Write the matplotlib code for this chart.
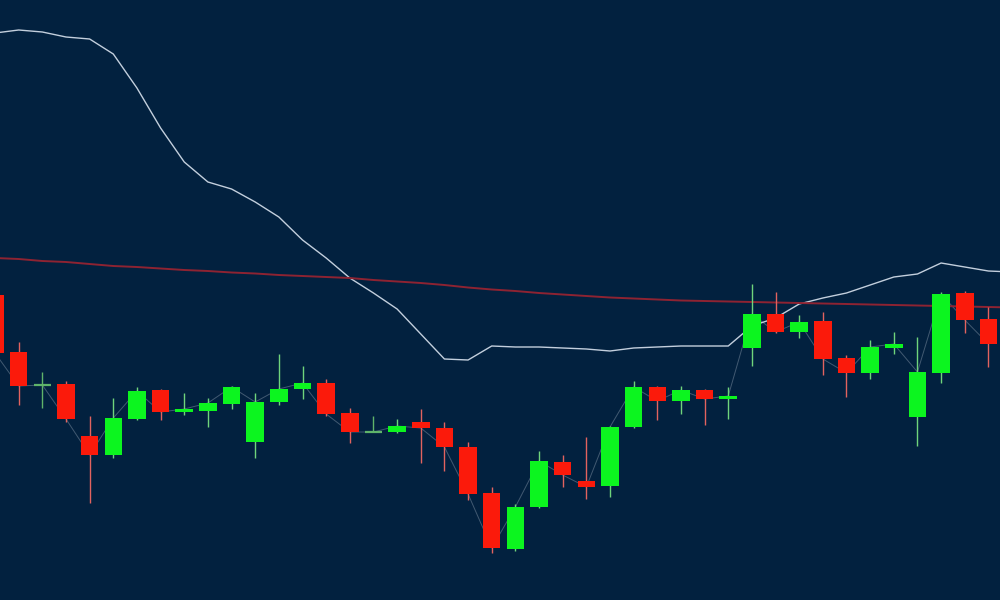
import numpy as np
import matplotlib
matplotlib.use('Agg')
import matplotlib.pyplot as plt

# candle data (arbitrary price units, higher = up)
opens = [305, 248, 215, 216, 164, 145, 181, 210, 188, 189, 196, 158, 198, 211, 217,
         187, 168, 168, 178, 172, 153, 107, 51, 93, 138, 119, 114, 173, 213, 199,
         210, 201, 252, 286, 268, 279, 242, 227, 252, 183, 227, 307, 281]
highs = [308, 258, 228, 219, 184, 202, 213, 211, 207, 202, 214, 207, 246, 234, 221,
         192, 184, 181, 191, 178, 158, 113, 96, 149, 145, 163, 174, 219, 214, 214,
         211, 213, 316, 308, 285, 288, 245, 260, 268, 263, 308, 309, 293]
lows = [244, 195, 192, 178, 97, 142, 180, 180, 185, 173, 191, 142, 195, 201, 184,
        157, 168, 167, 137, 129, 100, 47, 49, 92, 113, 101, 103, 172, 180, 186,
        175, 181, 234, 267, 262, 225, 203, 221, 246, 154, 217, 267, 233]
closes = [247, 214, 215, 181, 145, 182, 209, 188, 191, 197, 213, 198, 211, 217, 186,
          168, 168, 174, 172, 153, 106, 52, 93, 139, 125, 113, 173, 213, 199, 210,
          201, 204, 286, 268, 278, 241, 227, 253, 256, 228, 306, 280, 256]

# upper band and long moving average (one value past the last visible candle)
band = [567, 570, 568, 563, 561, 546, 512, 472, 438, 418, 411, 398, 383, 360, 342,
        322, 307, 291, 266, 241, 240, 254, 253, 253, 252, 251, 249, 252, 253, 254,
        254, 254, 274, 282, 296, 302, 307, 315, 323, 326, 337, 333, 329, 328]
ma = [342, 341, 339, 338, 336, 334, 333, 331.5, 330, 329, 327.5, 326.5, 325, 324, 323,
      322, 320, 318.5, 317, 315, 312.5, 310.5, 309, 307, 305.5, 304, 302.5, 301.5, 300.5, 299.5,
      299, 298.5, 298, 297.5, 297, 296.5, 296, 295.5, 295, 294.5, 294, 293.5, 293, 292.5]

bg = '#02213f'
up_col = '#0cf51f'
down_col = '#fb1a0b'
up_wick = '#6fd47c'
down_wick = '#e2635f'
doji_col = '#5fb46a'

o = np.array(opens, dtype=float)
h = np.array(highs, dtype=float)
l = np.array(lows, dtype=float)
c = np.array(closes, dtype=float)
x = np.arange(len(o))
width = 0.74

fig = plt.figure(figsize=(10, 6), dpi=100)
fig.patch.set_facecolor(bg)
ax = fig.add_axes([0, 0, 1, 1])
ax.set_facecolor(bg)

ax.plot(np.arange(len(band)), band, color='#c3cfdd', lw=1.0, zorder=2)
ax.plot(np.arange(len(ma)), ma, color='#8e2332', lw=1.4, zorder=2)
ax.plot(x, c, color='#6c7f93', lw=0.7, alpha=0.6, zorder=1)

up = c > o
down = c < o
doji = c == o

# wicks
ax.vlines(x[up], l[up], h[up], color=up_wick, lw=1.0, zorder=3)
ax.vlines(x[down], l[down], h[down], color=down_wick, lw=1.0, zorder=3)
ax.vlines(x[doji], l[doji], h[doji], color=doji_col, lw=1.0, zorder=3)

# bodies
ax.bar(x[up], c[up] - o[up], bottom=o[up], width=width, color=up_col, zorder=4)
ax.bar(x[down], o[down] - c[down], bottom=c[down], width=width, color=down_col, zorder=4)
ax.hlines(o[doji], x[doji] - width / 2, x[doji] + width / 2, color=doji_col, lw=1.6, zorder=4)

ax.set_xlim(0.21, 42.49)
ax.set_ylim(0, 600)
ax.axis('off')

fig.savefig('out.png', dpi=100, facecolor=bg)
